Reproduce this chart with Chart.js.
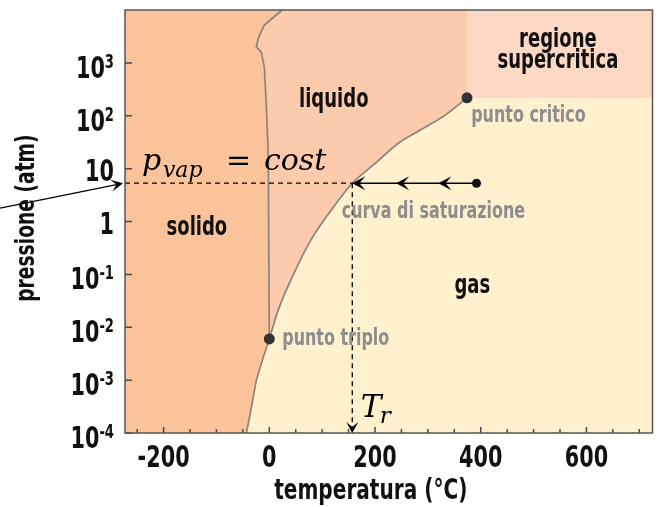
<!DOCTYPE html>
<html>
<head>
<meta charset="utf-8">
<script src="https://cdn.jsdelivr.net/npm/chart.js@4.4.1/dist/chart.umd.min.js"></script>
<style>
  html, body { margin: 0; padding: 0; background: #fff; }
  #wrap { width: 658px; height: 507px; }
</style>
</head>
<body>
<div id="wrap"><canvas id="diagramma"></canvas></div>
<script>
// diagramma di fase dell'acqua
const tempMin = -273, tempMax = 725
const pressMin = 1e-4, pressMax = 1e4

const xTicks = [-250, -200, -150, -100, -50, 0, 50, 100, 150, 200, 250, 300, 350, 400, 450, 500, 550, 600, 650, 700]
const xLabelValues = [-200, 0, 200, 400, 600]
const xLabels = ['-200', '0', '200', '400', '600']
const yTicks = [1e-4, 1e-3, 1e-2, 1e-1, 1, 10, 100, 1000]
const yLabels = ['10^-4', '10^-3', '10^-2', '10^-1', '1', '10', '10^2', '10^3']
const xTitolo = 'temperatura (°C)'
const yTitolo = 'pressione (atm)'

// curva di sublimazione (ghiaccio - vapore)
const sublimT = [-43.3, -35.8, -24.5, -13, 0.01]
const sublimP = [1e-4, 2.4e-4, 1e-3, 2.4e-3, 0.006]
// curva di saturazione (liquido - vapore)
const vapT = [0.01, 18.8, 43.3, 75.3, 107.3, 157, 201.4, 244.7, 295.5, 333, 374]
const vapP = [0.006, 0.024, 0.089, 0.39, 1.2, 5.3, 12.8, 30.5, 61, 103, 218]
// curva di fusione
const meltT = [0.01, -1.9, -5.6, -9.4, -15, -24.5, -20.7, -9.4, 24.5]
const meltP = [0.006, 18, 158, 830, 1600, 2000, 2950, 5200, 10000]

const puntoTriplo = {x: 0.01, y: 0.006}
const puntoCritico = {x: 374, y: 218}
// trasformazione isobara
const pSat = 5.3
const tInizio = 392
const tR = 157
const frecceT = [157, 240, 320]

const FONT = '"Liberation Sans Narrow", "DejaVu Sans Condensed", sans-serif'
const K = 0.77 // compressione orizzontale del font condensato
const SERIF = '"DejaVu Serif", "Liberation Serif", serif'
const COL_SOLIDO = '#fbc39a'
const COL_LIQUIDO = '#fccbae'
const COL_SUPER = '#fdd8c5'
const COL_GAS = '#fff0ce'
const COL_CURVA = '#8a837d'

const pts = (xs, ys) => xs.map((x, i) => ({x: x, y: ys[i]}))
const sublim = pts(sublimT, sublimP)
const vap = pts(vapT, vapP)
const melt = pts(meltT, meltP)

// riempimenti: il liquido e' lo sfondo dell'area
const gasSublim = sublim.concat([vap[1]])
const gasCoda = [vap[vap.length - 2], puntoCritico, {x: tempMax, y: puntoCritico.y}]
const solidoData = sublim.concat(melt.slice(1), [{x: tempMin, y: pressMax}, {x: tempMin, y: pressMin}])
const superData = [puntoCritico, {x: tempMax, y: puntoCritico.y}]

function punta(ctx, x, y, ang, len, half) {
  ctx.save()
  ctx.translate(x, y)
  ctx.rotate(ang)
  ctx.beginPath()
  ctx.moveTo(0, 0)
  ctx.lineTo(-len, -half)
  ctx.lineTo(-len * 0.55, 0)
  ctx.lineTo(-len, half)
  ctx.closePath()
  ctx.fill()
  ctx.restore()
}

// testo condensato: schiaccia orizzontalmente il font
function testo(ctx, txt, x, y, size, align, col, rot) {
  ctx.save()
  ctx.font = 'bold ' + size + 'px ' + FONT
  ctx.fillStyle = col || '#111'
  ctx.textAlign = 'left'
  const w = ctx.measureText(txt).width * K
  ctx.translate(x, y)
  if (rot) ctx.rotate(rot)
  const dx = align === 'center' ? -w / 2 : align === 'right' ? -w : 0
  ctx.translate(dx, 0)
  ctx.scale(K, 1)
  ctx.fillText(txt, 0, 0)
  ctx.restore()
  return w
}

const sfondo = {
  id: 'sfondo',
  beforeDatasetsDraw(chart) {
    const {ctx, chartArea: a} = chart
    ctx.save()
    ctx.fillStyle = COL_LIQUIDO
    ctx.fillRect(a.left, a.top, a.right - a.left, a.bottom - a.top)
    ctx.restore()
  }
}

const decorazioni = {
  id: 'decorazioni',
  afterDatasetsDraw(chart) {
    const {ctx, chartArea: a} = chart
    const sx = chart.scales.x, sy = chart.scales.y
    ctx.save()

    // tacche interne e cornice
    ctx.strokeStyle = '#4a4a4a'
    ctx.lineWidth = 1.5
    ctx.beginPath()
    sx.ticks.forEach(t => {
      const px = sx.getPixelForValue(t.value)
      const l = xLabelValues.includes(t.value) ? 6 : 4
      ctx.moveTo(px, a.bottom)
      ctx.lineTo(px, a.bottom - l)
    })
    sy.ticks.forEach(t => {
      const py = sy.getPixelForValue(t.value)
      ctx.moveTo(a.left, py)
      ctx.lineTo(a.left + 7, py)
    })
    ctx.stroke()
    ctx.strokeStyle = '#555'
    ctx.strokeRect(a.left, a.top, a.right - a.left, a.bottom - a.top)

    // etichette degli assi
    sx.ticks.forEach(t => {
      const i = xLabelValues.indexOf(t.value)
      if (i >= 0) testo(ctx, xLabels[i], sx.getPixelForValue(t.value), a.bottom + 34, 30, 'center')
    })
    sy.ticks.forEach((t, i) => {
      const py = sy.getPixelForValue(t.value)
      const parts = yLabels[i].split('^')
      const xr = a.left - 11
      if (parts.length > 1) {
        const we = testo(ctx, parts[1], xr, py + 5, 19, 'right')
        testo(ctx, parts[0], xr - we, py + 15, 30, 'right')
      } else {
        testo(ctx, parts[0], xr, py + 12, 30, 'right')
      }
    })
    testo(ctx, xTitolo, sx.getPixelForValue(192), chart.height - 8, 29, 'center')
    testo(ctx, yTitolo, 34, sy.getPixelForValue(1.16), 27, 'center', '#111', -Math.PI / 2)

    // frecce
    ctx.fillStyle = '#000'
    const yS = sy.getPixelForValue(pSat)
    frecceT.forEach(t => punta(ctx, sx.getPixelForValue(t), yS, Math.PI, 13, 7))
    punta(ctx, sx.getPixelForValue(tR), a.bottom, Math.PI / 2, 11, 6)
    ctx.strokeStyle = '#000'
    ctx.lineWidth = 1.3
    const tip = {x: a.left - 2, y: yS}
    ctx.beginPath()
    ctx.moveTo(0, yS + 25)
    ctx.lineTo(tip.x - 4, tip.y + 1)
    ctx.stroke()
    punta(ctx, tip.x, tip.y, Math.atan2(-25, tip.x), 12, 6)

    // nomi delle regioni
    const scrivi = (txt, t, p, size, col, align) =>
      testo(ctx, txt, sx.getPixelForValue(t), sy.getPixelForValue(p), size, align, col)
    scrivi('liquido', 122, 146, 26, '#111', 'center')
    scrivi('solido', -137, 0.556, 26, '#111', 'center')
    scrivi('gas', 384, 0.0445, 26, '#111', 'center')
    scrivi('regione', 546, 2000, 26, '#111', 'center')
    scrivi('supercritica', 546, 795, 26, '#111', 'center')
    scrivi('punto critico', 382, 76, 23, '#8d8d8d', 'left')
    scrivi('curva di saturazione', 137, 1.16, 23, '#8d8d8d', 'left')
    scrivi('punto triplo', 24.5, 0.0046, 23, '#8d8d8d', 'left')

    // formule
    ctx.fillStyle = '#000'
    ctx.textAlign = 'left'
    const x0 = sx.getPixelForValue(-241), y0 = sy.getPixelForValue(9.4)
    ctx.font = 'italic 30px ' + SERIF
    ctx.fillText('p', x0, y0)
    ctx.font = 'italic 22px ' + SERIF
    ctx.fillText('vap', x0 + 21, y0 + 7)
    ctx.font = '30px ' + SERIF
    ctx.fillText('=', x0 + 84, y0)
    ctx.font = 'italic 30px ' + SERIF
    ctx.fillText('cost', x0 + 122, y0)
    const x1 = sx.getPixelForValue(173), y1 = sy.getPixelForValue(2.0e-4)
    ctx.font = 'italic 31px ' + SERIF
    ctx.fillText('T', x1, y1)
    ctx.font = 'italic 23px ' + SERIF
    ctx.fillText('r', x1 + 19, y1 + 6)
    ctx.restore()
  }
}

const ctx = document.getElementById('diagramma').getContext('2d')
const diagramma = new Chart(ctx, {
  type: 'line',
  data: {
    datasets: [
      { label: 'punto di partenza', data: [{x: tInizio, y: pSat}], showLine: false,
        pointRadius: 4.5, pointBackgroundColor: '#111', pointBorderWidth: 0, order: 1 },
      { label: 'punti notevoli', data: [puntoTriplo, puntoCritico], showLine: false,
        pointRadius: 5.5, pointBackgroundColor: '#333', pointBorderWidth: 0, order: 2 },
      { label: 'isobara', data: [{x: tInizio, y: pSat}, {x: tR, y: pSat}],
        borderColor: '#000', borderWidth: 1.6, order: 3 },
      { label: 'p costante', data: [{x: tempMin, y: pSat}, {x: tR, y: pSat}],
        borderColor: '#000', borderWidth: 1.3, borderDash: [5, 4], order: 4 },
      { label: 'Tr', data: [{x: tR, y: pSat}, {x: tR, y: pressMin}],
        borderColor: '#000', borderWidth: 1.3, borderDash: [5, 4], order: 4 },
      { label: 'saturazione', data: vap, tension: 0.3,
        borderColor: COL_CURVA, borderWidth: 1.7, order: 5 },
      { label: 'sublimazione', data: sublim,
        borderColor: COL_CURVA, borderWidth: 1.7, order: 5 },
      { label: 'fusione', data: melt, borderColor: COL_CURVA, borderWidth: 1.7, order: 5 },
      { label: 'solido', data: solidoData, fill: 'shape', backgroundColor: COL_SOLIDO,
        borderWidth: 0, order: 8 },
      { label: 'supercritico', data: superData, fill: 'end', backgroundColor: COL_SUPER,
        borderWidth: 0, order: 9 },
      { label: 'gas (saturazione)', data: vap, tension: 0.3, fill: 'start', backgroundColor: COL_GAS,
        borderWidth: 0, order: 10 },
      { label: 'gas (sublimazione)', data: gasSublim, fill: 'start', backgroundColor: COL_GAS,
        borderWidth: 0, order: 10 },
      { label: 'gas (oltre il punto critico)', data: gasCoda, fill: 'start', backgroundColor: COL_GAS,
        borderWidth: 0, order: 10 }
    ]
  },
  options: {
    responsive: true,
    maintainAspectRatio: false,
    animation: false,
    layout: { padding: { top: 10, right: 3, left: 0, bottom: 0 } },
    elements: { point: { radius: 0, hoverRadius: 0 }, line: { tension: 0 } },
    plugins: { legend: { display: false }, tooltip: { enabled: false } },
    scales: {
      x: {
        type: 'linear',
        min: tempMin,
        max: tempMax,
        afterBuildTicks: s => { s.ticks = xTicks.map(v => ({value: v})) },
        afterFit: s => { s.height = 74 },
        grid: { display: false, drawTicks: false },
        border: { display: false },
        ticks: { display: false }
      },
      y: {
        type: 'logarithmic',
        min: pressMin,
        max: pressMax,
        afterBuildTicks: s => { s.ticks = yTicks.map(v => ({value: v})) },
        afterFit: s => { s.width = 125 },
        grid: { display: false, drawTicks: false },
        border: { display: false },
        ticks: { display: false }
      }
    }
  },
  plugins: [sfondo, decorazioni]
})
</script>
</body>
</html>
